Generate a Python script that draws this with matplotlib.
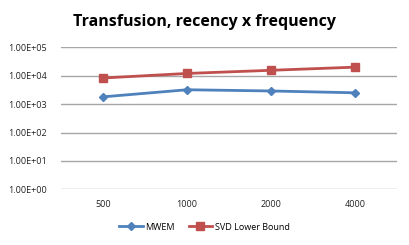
import matplotlib.pyplot as plt
from matplotlib.ticker import FuncFormatter

categories = ["500", "1000", "2000", "4000"]
mwem = [1800, 3200, 2900, 2500]
svd_lower = [8300, 12000, 15500, 20000]

plt.rcParams['font.family'] = ['Open Sans', 'DejaVu Sans']

fig = plt.figure(figsize=(4.09, 2.45), dpi=100)
ax = fig.add_axes([61 / 409, 1 - 189.3 / 245, 336 / 409, 142 / 245])

x = range(len(categories))
ax.plot(x, mwem, color="#4F81BD", lw=2, marker="D", ms=4.5, label="MWEM")
ax.plot(x, svd_lower, color="#C0504D", lw=2, marker="s", ms=6, label="SVD Lower Bound")

ax.set_yscale("log")
ax.set_ylim(1, 1e5)
ax.set_xlim(-0.5, 3.5)
ax.set_yticks([1, 10, 100, 1e3, 1e4, 1e5])
ax.minorticks_off()
ax.yaxis.set_major_formatter(FuncFormatter(lambda v, p: "%.2E" % v))
ax.set_xticks(list(x))
ax.set_xticklabels(categories)
ax.tick_params(length=0, labelsize=6.5, colors="#222222")
ax.tick_params(axis="y", pad=10)
ax.tick_params(axis="x", pad=8)
ax.grid(axis="y", color="#a6a6a6", lw=1)
ax.set_axisbelow(True)
for s in ax.spines.values():
    s.set_visible(False)

fig.text(0.5, 1 - 22 / 245, "Transfusion, recency x frequency", ha="center", va="center",
         fontsize=11.5, fontweight="bold")
fig.legend(loc="center", bbox_to_anchor=(0.5, 1 - 227 / 245), ncol=2, frameon=False,
           fontsize=6.5, handlelength=2.6, columnspacing=1.5, handletextpad=0.3)

plt.savefig("out.png")
